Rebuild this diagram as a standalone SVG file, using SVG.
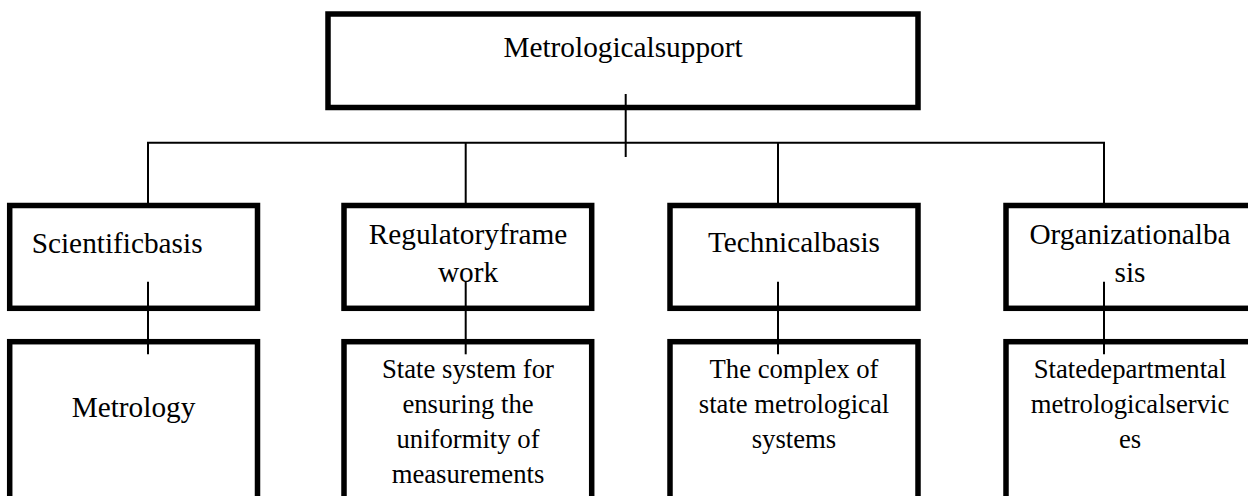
<svg xmlns="http://www.w3.org/2000/svg" width="1248" height="496" viewBox="0 0 1248 496">
<style>
.box{fill:#fff;stroke:#000;stroke-width:5.5}
.ln{stroke:#000;stroke-width:2;fill:none}
.t1{font-family:"Liberation Serif","Times New Roman",serif;font-size:29.3px;fill:#000;text-anchor:middle}
.t2{font-family:"Liberation Serif","Times New Roman",serif;font-size:26.7px;fill:#000;text-anchor:middle}
</style>
<rect width="1248" height="496" fill="#fff"/>
<g id="n-top">
<rect class="box" x="328" y="14" width="590" height="93.5"/>
<text class="t1" x="623" y="57">Metrologicalsupport</text>
</g>
<g id="n-scientific">
<rect class="box" x="9.7" y="205.5" width="247.8" height="102.8"/>
<text class="t1" x="31.7" y="252.5" style="text-anchor:start">Scientificbasis</text>
</g>
<g id="n-regulatory">
<rect class="box" x="344" y="205.5" width="247.7" height="102.8"/>
<text class="t1" x="468" y="244">Regulatoryframe</text>
<text class="t1" x="468" y="281.7">work</text>
</g>
<g id="n-technical">
<rect class="box" x="670" y="205.5" width="248" height="102.8"/>
<text class="t1" x="794" y="252">Technicalbasis</text>
</g>
<g id="n-organizational">
<rect class="box" x="1006" y="205.5" width="248" height="102.8"/>
<text class="t1" x="1130" y="243.5">Organizationalba</text>
<text class="t1" x="1130" y="281.7">sis</text>
</g>
<g id="n-metrology">
<rect class="box" x="9.7" y="341.7" width="247.8" height="200"/>
<text class="t1" x="133.5" y="416.7">Metrology</text>
</g>
<g id="n-state-system">
<rect class="box" x="344" y="341.7" width="247.7" height="200"/>
<text class="t2" x="468" y="377.7">State system for</text>
<text class="t2" x="468" y="413">ensuring the</text>
<text class="t2" x="468" y="448">uniformity of</text>
<text class="t2" x="468" y="483">measurements</text>
</g>
<g id="n-complex">
<rect class="box" x="670" y="341.7" width="248" height="200"/>
<text class="t2" x="794" y="377.7">The complex of</text>
<text class="t2" x="794" y="412.7">state metrological</text>
<text class="t2" x="794" y="448.3">systems</text>
</g>
<g id="n-services">
<rect class="box" x="1006" y="341.7" width="248" height="200"/>
<text class="t2" x="1130" y="377.7">Statedepartmental</text>
<text class="t2" x="1130" y="413.3">metrologicalservic</text>
<text class="t2" x="1130" y="448.3">es</text>
</g>
<g id="connectors">
<line class="ln" x1="625.7" y1="94" x2="625.7" y2="157"/>
<line class="ln" x1="147" y1="142.7" x2="1105" y2="142.7"/>
<line class="ln" x1="148" y1="142.7" x2="148" y2="203"/>
<line class="ln" x1="465.7" y1="142.7" x2="465.7" y2="203"/>
<line class="ln" x1="778" y1="142.7" x2="778" y2="203"/>
<line class="ln" x1="1104" y1="142.7" x2="1104" y2="203"/>
<line class="ln" x1="148" y1="281.7" x2="148" y2="354.3"/>
<line class="ln" x1="465.7" y1="281.7" x2="465.7" y2="354.3"/>
<line class="ln" x1="778" y1="281.7" x2="778" y2="354.3"/>
<line class="ln" x1="1104" y1="281.7" x2="1104" y2="354.3"/>
</g>
</svg>
